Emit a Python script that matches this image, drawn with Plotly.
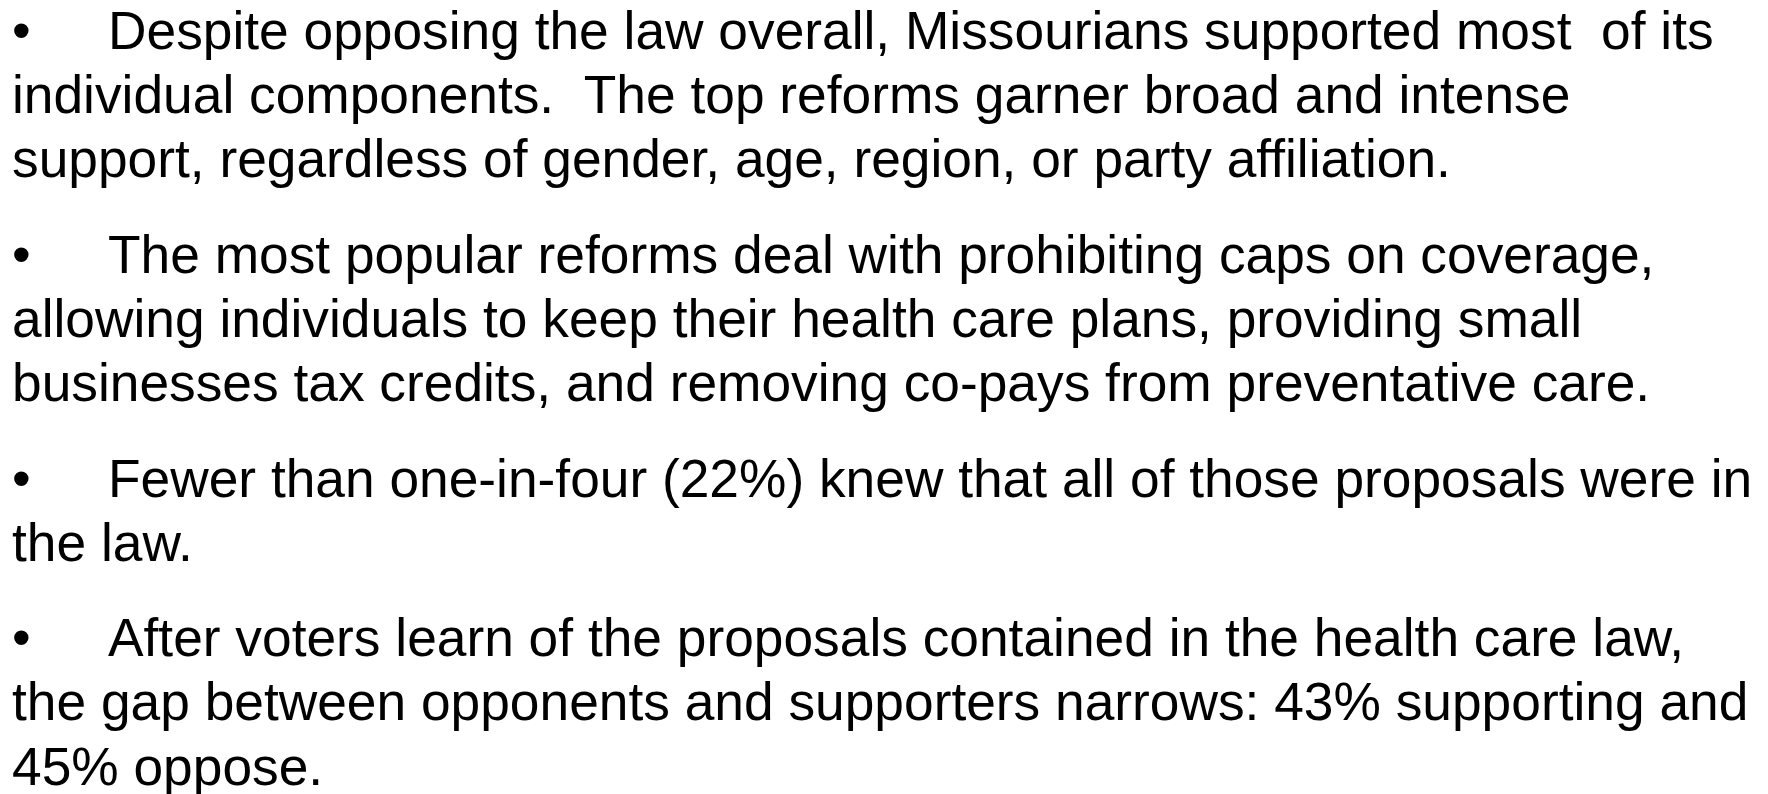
import plotly.graph_objects as go

# Slide content: one list of wrapped lines per bullet paragraph
paragraph_1 = [
    "Despite opposing the law overall, Missourians supported most  of its",
    "individual components.  The top reforms garner broad and intense",
    "support, regardless of gender, age, region, or party affiliation.",
]
paragraph_2 = [
    "The most popular reforms deal with prohibiting caps on coverage,",
    "allowing individuals to keep their health care plans, providing small",
    "businesses tax credits, and removing co-pays from preventative care.",
]
paragraph_3 = [
    "Fewer than one-in-four (22%) knew that all of those proposals were in",
    "the law.",
]
paragraph_4 = [
    "After voters learn of the proposals contained in the health care law,",
    "the gap between opponents and supporters narrows: 43% supporting and",
    "45% oppose.",
]
paragraphs = [paragraph_1, paragraph_2, paragraph_3, paragraph_4]
bullet_symbol = "•"

# Layout styling
W, H = 1768, 794
FONT = dict(family="Liberation Sans, Arial, sans-serif", size=53.3, color="#000000")
LEFT = 3.5
TAB = 100
FIRST_BASELINE = 49
LINE_STEP = 64.1
PARA_GAP = 31.5
CENTER_OFFSET = 26.5


def keep_spaces(s):
    return s.replace("  ", " \u00a0")


annotations = []
line_idx = 0
for p_idx, para in enumerate(paragraphs):
    for l_idx, line in enumerate(para):
        baseline = FIRST_BASELINE + LINE_STEP * line_idx + PARA_GAP * p_idx
        yc = baseline - CENTER_OFFSET
        if l_idx == 0:
            annotations.append(dict(x=LEFT, y=yc, text=bullet_symbol, xref="x", yref="y",
                                    xanchor="left", yanchor="middle", showarrow=False,
                                    font=FONT, borderpad=0, borderwidth=0))
            x0 = TAB
        else:
            x0 = LEFT
        annotations.append(dict(x=x0, y=yc, text=keep_spaces(line), xref="x", yref="y",
                                xanchor="left", yanchor="middle", showarrow=False,
                                font=FONT, borderpad=0, borderwidth=0))
        line_idx += 1

fig = go.Figure()
fig.update_layout(
    width=W, height=H,
    margin=dict(l=0, r=0, t=0, b=0),
    paper_bgcolor="white", plot_bgcolor="white",
    xaxis=dict(range=[0, W], visible=False, fixedrange=True),
    yaxis=dict(range=[H, 0], visible=False, fixedrange=True),
    annotations=annotations,
    showlegend=False,
)
fig.write_html("out.html")
